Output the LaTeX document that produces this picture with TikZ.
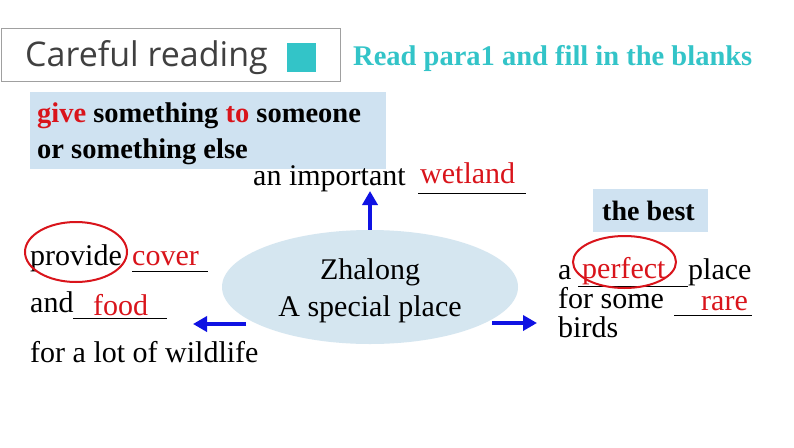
\documentclass[tikz,border=0pt]{standalone}
\usepackage{fontspec}
\setmainfont{Liberation Serif}
\newfontfamily\titlefont{Open Sans}
\usetikzlibrary{arrows.meta,shapes.geometric}
\definecolor{tealc}{HTML}{33C4C8}
\definecolor{boxblue}{HTML}{CFE2F1}
\definecolor{ellblue}{HTML}{D5E6F0}
\definecolor{redtxt}{HTML}{D9141B}
\definecolor{arrowblue}{HTML}{0F12E3}
\definecolor{titlegray}{HTML}{404040}
\tikzset{
  txt/.style={anchor=base west, inner sep=0pt, font=\fontsize{30}{30}\selectfont},
  ans/.style={txt, text=redtxt},
  boldtxt/.style={anchor=base west, inner sep=0pt, font=\fontsize{28.5}{28.5}\selectfont\bfseries},
  blank/.style={line width=1pt},
  arr/.style={draw=arrowblue, line width=4.5pt, -{Triangle[length=14pt,width=15pt]}},
  ring/.style={draw=redtxt, line width=2pt, ellipse, inner sep=0pt},
}
\begin{document}
\begin{tikzpicture}[x=1pt,y=1pt]
\useasboundingbox[fill=white] (0,0) rectangle (794,-447);
% title
\node[draw={rgb,255:red,160;green,160;blue,160}, line width=1.3pt, minimum width=339pt, minimum height=53pt, anchor=north west, inner sep=0pt] (titlebox) at (0.7,-28) {};
\node[anchor=base west, inner sep=0pt, text=titlegray, font=\titlefont\fontsize{34}{34}\selectfont] (title) at (25,-66) {Careful reading};
\node[fill=tealc, minimum width=29pt, minimum height=29pt, inner sep=0pt, anchor=north west] (sq) at (287,-43) {};
\node[anchor=base west, inner sep=0pt, text=tealc, font=\fontsize{28.5}{28.5}\selectfont\bfseries] (task) at (353,-65) {Read para1 and fill in the blanks};
% definition box
\node[fill=boxblue, minimum width=356pt, minimum height=77pt, anchor=north west, inner sep=0pt] (defbox) at (30,-92) {};
\node[boldtxt] (def1) at (37,-122) {\textcolor{redtxt}{give} something \textcolor{redtxt}{to} someone};
\node[boldtxt] (def2) at (37,-158) {or something else};
% centre ellipse
\node[ellipse, fill=ellblue, minimum width=296pt, minimum height=114pt, inner sep=0pt] (ell) at (370,-287) {};
\node[anchor=base, inner sep=0pt, font=\fontsize{30}{30}\selectfont] (zh) at (370,-279) {Zhalong};
\node[anchor=base, inner sep=0pt, font=\fontsize{30}{30}\selectfont] (sp) at (370,-316) {A special place};
% top
\node[txt] (imp) at (253,-185) {an important};
\node[ans] (wet) at (420,-183) {wetland};
\draw[blank] (418,-193) -- (526,-193);
\coordinate (upend) at (370,-191);
\draw[arr] (ell.north) -- (upend);
% left
\node[txt] (prov) at (30,-265) {provide};
\node[ring, minimum width=102pt, minimum height=60pt] (ring1) at (76,-252) {};
\node[ans] (cov) at (132,-265) {cover};
\draw[blank] (132,-271) -- (208,-271);
\node[txt] (and) at (30,-312) {and};
\draw[blank] (73,-318) -- (167,-318);
\node[ans] (food) at (93,-315) {food};
\node[txt] (wild) at (30,-362) {for a lot of wildlife};
\coordinate (ltail) at (246,-324);
\coordinate (ltip) at (193,-324);
\draw[arr] (ltail) -- (ltip);
% right
\coordinate (rtail) at (492,-323);
\coordinate (rtip) at (537,-323);
\draw[arr] (rtail) -- (rtip);
\node[fill=boxblue, minimum width=115pt, minimum height=43pt, anchor=north west, inner sep=0pt] (bestbox) at (593,-189) {};
\node[boldtxt, font=\fontsize{28}{28}\selectfont\bfseries] (best) at (602,-220) {the best};
\node[txt] (a) at (558,-279) {a};
\node[ans] (perf) at (582,-278) {perfect};
\draw[blank] (578,-286) -- (688,-286);
\node[txt] (place) at (688,-279) {place};
\node[ring, minimum width=103pt, minimum height=52pt] (ring2) at (624.5,-262) {};
\node[txt] (some) at (558,-308) {for some};
\draw[blank] (674,-315) -- (752,-315);
\node[ans] (rare) at (701,-310) {rare};
\node[txt] (birds) at (558,-337) {birds};
\end{tikzpicture}
\end{document}
